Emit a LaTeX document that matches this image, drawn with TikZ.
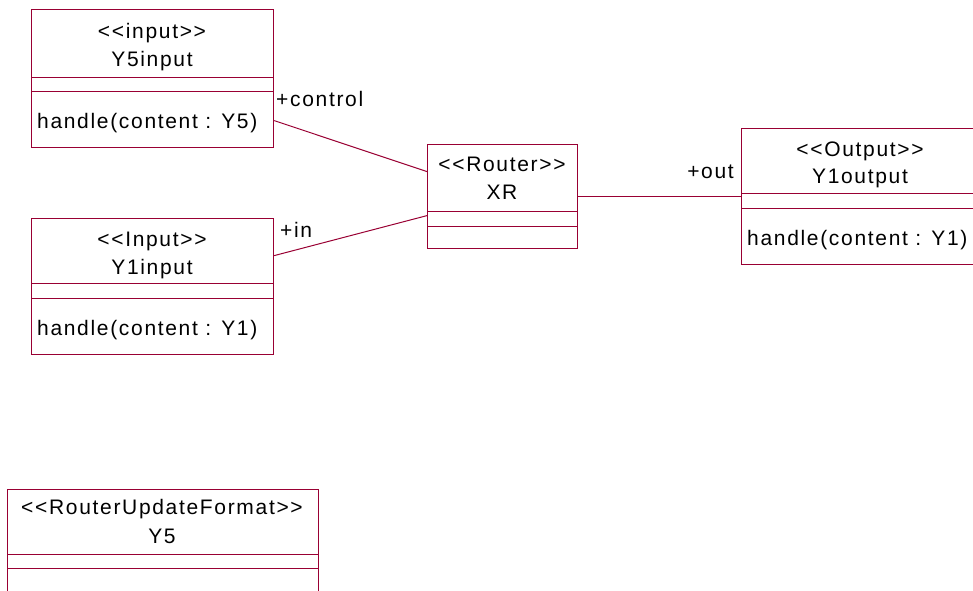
\documentclass[tikz,border=0pt]{standalone}
\usepackage{fontspec}
\setmainfont[LetterSpace=8, Ligatures=TeXOff]{Liberation Sans}
\usepackage{tikz}
\usetikzlibrary{calc,positioning}
\definecolor{RoseRed}{HTML}{990033}

\tikzset{
  classbox/.style={draw=RoseRed, line width=1.2pt, anchor=north west, inner sep=0pt},
  sepline/.style={draw=RoseRed, line width=1pt},
  assoc/.style={draw=RoseRed, line width=1pt},
  umltext/.style={inner sep=0pt, text height=1.5ex, text depth=.4ex, font=\fontsize{21}{25}\selectfont}
}

\begin{document}
\begin{tikzpicture}[x=1pt, y=-1pt]
  \useasboundingbox (0,0) rectangle (973,590);
  \clip (0,0) rectangle (973,590);

  % Y5input class
  \node[classbox, minimum width=242pt, minimum height=138pt] (y5in) at (31,9) {};
  \draw[sepline] ($(y5in.north west)+(0,68)$) -- ($(y5in.north east)+(0,68)$);
  \draw[sepline] ($(y5in.north west)+(0,82)$) -- ($(y5in.north east)+(0,82)$);
  \node[umltext] (y5in-st) at (152,36) {<<input>>};
  \node[umltext] (y5in-nm) at (152,64) {Y5input};
  \node[umltext, anchor=west] (y5in-op) at (37,126) {handle(content : Y5)};

  % Y1input class
  \node[classbox, minimum width=242pt, minimum height=136pt] (y1in) at (31,218) {};
  \draw[sepline] ($(y1in.north west)+(0,65)$) -- ($(y1in.north east)+(0,65)$);
  \draw[sepline] ($(y1in.north west)+(0,80)$) -- ($(y1in.north east)+(0,80)$);
  \node[umltext] (y1in-st) at (152,244) {<<Input>>};
  \node[umltext] (y1in-nm) at (152,272) {Y1input};
  \node[umltext, anchor=west] (y1in-op) at (37,333) {handle(content : Y1)};

  % XR router
  \node[classbox, minimum width=150pt, minimum height=104pt] (xr) at (427,144) {};
  \draw[sepline] ($(xr.north west)+(0,67)$) -- ($(xr.north east)+(0,67)$);
  \draw[sepline] ($(xr.north west)+(0,82)$) -- ($(xr.north east)+(0,82)$);
  \node[umltext] (xr-st) at (502,169) {<<Router>>};
  \node[umltext] (xr-nm) at (502,197) {XR};

  % Y1output class
  \node[classbox, minimum width=238pt, minimum height=136pt] (y1out) at (741,128) {};
  \draw[sepline] ($(y1out.north west)+(0,65)$) -- ($(y1out.north east)+(0,65)$);
  \draw[sepline] ($(y1out.north west)+(0,80)$) -- ($(y1out.north east)+(0,80)$);
  \node[umltext] (y1out-st) at (860,154) {<<Output>>};
  \node[umltext] (y1out-nm) at (860,181) {Y1output};
  \node[umltext, anchor=west] (y1out-op) at (747,243) {handle(content : Y1)};

  % Y5 format
  \node[classbox, minimum width=311pt, minimum height=120pt] (y5) at (7,489) {};
  \draw[sepline] ($(y5.north west)+(0,65)$) -- ($(y5.north east)+(0,65)$);
  \draw[sepline] ($(y5.north west)+(0,79)$) -- ($(y5.north east)+(0,79)$);
  \node[umltext] (y5-st) at (162,512) {<<RouterUpdateFormat>>};
  \node[umltext] (y5-nm) at (162,541) {Y5};

  % associations
  \draw[assoc] ([yshift=-42pt]y5in.east) -- ([yshift=25pt]xr.west);
  \draw[assoc] ([yshift=31pt]y1in.east) -- ([yshift=-19pt]xr.west);
  \draw[assoc] (xr.east) -- (y1out.west);

  \node[umltext, anchor=west] (lbl-control) at (276,104) {+control};
  \node[umltext, anchor=west] (lbl-in) at (280,235) {+in};
  \node[umltext, anchor=east] (lbl-out) at (734,176) {+out};
\end{tikzpicture}
\end{document}
